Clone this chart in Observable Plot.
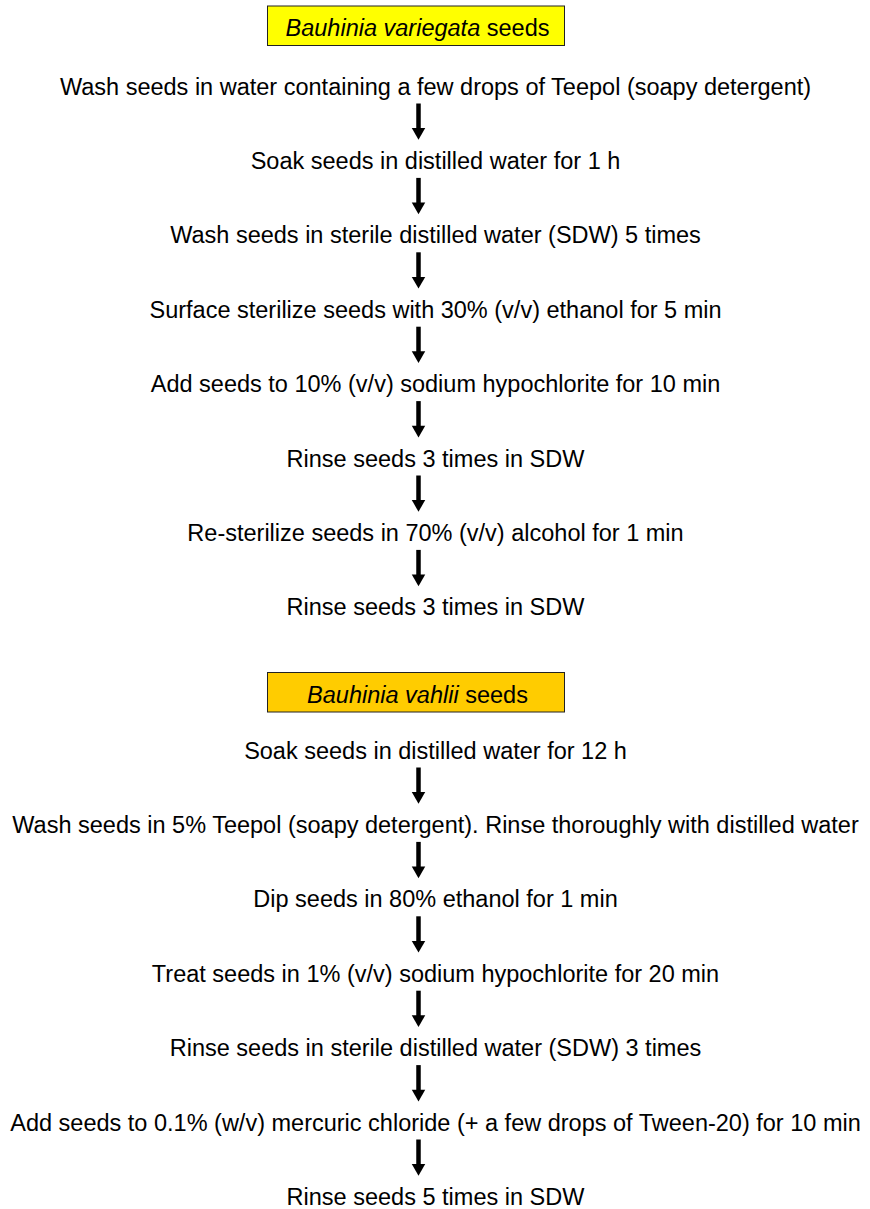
<!DOCTYPE html>
<html><head><meta charset="utf-8">
<script src="https://cdn.jsdelivr.net/npm/d3@7"></script>
<script src="https://cdn.jsdelivr.net/npm/@observablehq/plot@0.6"></script>
<style>html,body{margin:0;padding:0;background:#fff}</style>
</head><body><div id="chart"></div>
<script>
// ---- data ----
const headerSpecies = ["Bauhinia variegata", "Bauhinia vahlii"];
const headerSuffix = "seeds";
const stepsVariegata = [
  "Wash seeds in water containing a few drops of Teepol (soapy detergent)",
  "Soak seeds in distilled water for 1 h",
  "Wash seeds in sterile distilled water (SDW) 5 times",
  "Surface sterilize seeds with 30% (v/v) ethanol for 5 min",
  "Add seeds to 10% (v/v) sodium hypochlorite for 10 min",
  "Rinse seeds 3 times in SDW",
  "Re-sterilize seeds in 70% (v/v) alcohol for 1 min",
  "Rinse seeds 3 times in SDW"
];
const stepsVahlii = [
  "Soak seeds in distilled water for 12 h",
  "Wash seeds in 5% Teepol (soapy detergent). Rinse thoroughly with distilled water",
  "Dip seeds in 80% ethanol for 1 min",
  "Treat seeds in 1% (v/v) sodium hypochlorite for 20 min",
  "Rinse seeds in sterile distilled water (SDW) 3 times",
  "Add seeds to 0.1% (w/v) mercuric chloride (+ a few drops of Tween-20) for 10 min",
  "Rinse seeds 5 times in SDW"
];

// ---- layout ----
const W = 870, H = 1209;
const FONT = "'Liberation Sans', Arial, sans-serif";
const FS = 23.5;
const GAP = 74.4;
const TEXT_X = 435, ARROW_X = 418, HEAD_X = 416;
const BOX_W = 297;
const blocks = [
  {species: headerSpecies[0], steps: stepsVariegata, fill: "#ffff00", boxCy: 26, firstBase: 94},
  {species: headerSpecies[1], steps: stepsVahlii, fill: "#ffcc00", boxCy: 692.5, firstBase: 758}
];

const ctx = document.createElement("canvas").getContext("2d");
function tw(s, italic) {
  ctx.font = `${italic ? "italic " : ""}${FS}px 'Liberation Sans'`;
  return ctx.measureText(s).width;
}

const stepRows = [], arrowRows = [], boxRows = [], italicRows = [], suffixRows = [];
for (const b of blocks) {
  b.steps.forEach((t, i) => {
    const base = b.firstBase + i * GAP;
    stepRows.push({text: t, x: TEXT_X, y: base});
    if (i < b.steps.length - 1) {
      arrowRows.push({x: ARROW_X, y1: base + 9, y2: base + 36, tip: base + 37.5});
    }
  });
  const wi = tw(b.species, true), ws = tw(" ", false), wn = tw(headerSuffix, false);
  const total = wi + ws + wn;
  const sx = HEAD_X + 1 - total / 2;
  const base = b.boxCy + 9.5;
  italicRows.push({text: b.species, x: sx, y: base});
  suffixRows.push({text: headerSuffix, x: sx + wi + ws, y: base});
  boxRows.push({x1: HEAD_X - BOX_W / 2, x2: HEAD_X + BOX_W / 2, y1: b.boxCy - 20, y2: b.boxCy + 19.5, fill: b.fill});
}

const chart = Plot.plot({
  width: W, height: H, margin: 0,
  x: {domain: [0, W], range: [0, W], axis: null},
  y: {domain: [0, H], range: [0, H], axis: null},
  color: {type: "identity"},
  style: {background: "#fff"},
  marks: [
    Plot.rect(boxRows, {x1: "x1", x2: "x2", y1: "y1", y2: "y2", fill: "fill", stroke: "#222", strokeWidth: 1}),
    Plot.text(italicRows, {x: "x", y: "y", text: "text", textAnchor: "start", lineAnchor: "bottom",
      fontSize: FS, fontFamily: FONT, fontStyle: "italic", fill: "#000"}),
    Plot.text(suffixRows, {x: "x", y: "y", text: "text", textAnchor: "start", lineAnchor: "bottom",
      fontSize: FS, fontFamily: FONT, fill: "#000"}),
    Plot.text(stepRows, {x: "x", y: "y", text: "text", textAnchor: "middle", lineAnchor: "bottom",
      fontSize: FS, fontFamily: FONT, fill: "#000"}),
    Plot.link(arrowRows, {x1: "x", x2: "x", y1: "y1", y2: "y2", stroke: "#000", strokeWidth: 4.5, strokeLinecap: "butt"}),
    Plot.dot(arrowRows, {x: "x", y: "tip", symbol: "triangle", r: 5, rotate: 180, fill: "#000", stroke: "none"})
  ]
});
document.getElementById("chart").appendChild(chart);
</script>
</body></html>
